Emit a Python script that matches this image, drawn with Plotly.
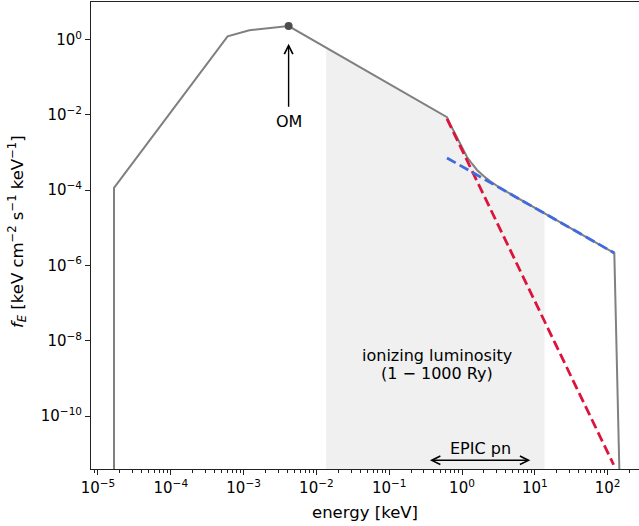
import numpy as np
import plotly.graph_objects as go

# Total spectral model (keV, keV cm^-2 s^-1 keV^-1)
energy = [1.66e-5, 1.66e-5, 6.03e-4, 1.20e-3, 4.15e-3, 0.622, 0.70, 0.853,
          1.0, 1.172, 1.39, 1.607, 2.0, 2.449, 3.2, 4.15, 123.6, 147.2]
flux = [1e-12, 1.15e-4, 1.22, 1.78, 2.29, 8.7e-3, 5.3e-3, 2.59e-3,
        1.38e-3, 7.62e-4, 4.9e-4, 3.45e-4, 2.35e-4, 1.72e-4, 1.22e-4, 9.0e-5,
        2.15e-6, 1e-12]

# Model components
soft_energy = [0.622, 121.0]
soft_flux = [7.9e-3, 5.1e-12]
pl_energy = [0.622, 123.6]
pl_flux = [7.2e-4, 2.15e-6]

# Optical monitor point (spectral peak)
om_energy = 4.15e-3
om_flux = 2.29

# Ionizing band 1-1000 Ry in keV
RY_KEV = 13.6057e-3
band = [1 * RY_KEV, 1000 * RY_KEV]
# EPIC pn band in keV
epic = [0.3, 10.0]

x_ticks = [1e-5, 1e-4, 1e-3, 1e-2, 1e-1, 1e0, 1e1, 1e2]
x_ticktext = ["10<sup>\u22125</sup>", "10<sup>\u22124</sup>", "10<sup>\u22123</sup>",
              "10<sup>\u22122</sup>", "10<sup>\u22121</sup>", "10<sup>0</sup>",
              "10<sup>1</sup>", "10<sup>2</sup>"]
y_ticks = [1e-10, 1e-8, 1e-6, 1e-4, 1e-2, 1e0]
y_ticktext = ["10<sup>\u221210</sup>", "10<sup>\u22128</sup>", "10<sup>\u22126</sup>",
              "10<sup>\u22124</sup>", "10<sup>\u22122</sup>", "10<sup>0</sup>"]

FONT = "DejaVu Sans"
TEXT_SIZE = 16
LABEL_SIZE = 16.5
TICK_SIZE = 15

# Shaded area under the model between 1 and 1000 Ry
le = np.log10(energy)
lf = np.log10(flux)
seg = slice(2, len(energy))
inside = [(e, f) for e, f in zip(energy[2:], flux[2:]) if band[0] < e < band[1]]
f_lo = 10 ** np.interp(np.log10(band[0]), le[seg], lf[seg])
f_hi = 10 ** np.interp(np.log10(band[1]), le[seg], lf[seg])
fill_x = [band[0]] + [p[0] for p in inside] + [band[1], band[1], band[0], band[0]]
fill_y = [f_lo] + [p[1] for p in inside] + [f_hi, 1e-13, 1e-13, f_lo]

fig = go.Figure()
fig.add_trace(go.Scatter(x=fill_x, y=fill_y, mode="lines", fill="toself",
                         fillcolor="#f0f0f0", line=dict(width=0),
                         hoverinfo="skip", showlegend=False))
fig.add_trace(go.Scatter(x=energy, y=flux, mode="lines",
                         line=dict(color="#808080", width=2), showlegend=False))
fig.add_trace(go.Scatter(x=soft_energy, y=soft_flux, mode="lines",
                         line=dict(color="#DC143C", width=2.8, dash="10px,4.5px"),
                         showlegend=False))
fig.add_trace(go.Scatter(x=pl_energy, y=pl_flux, mode="lines",
                         line=dict(color="#4169E1", width=2.8, dash="10px,4.5px"),
                         showlegend=False))
fig.add_trace(go.Scatter(x=[om_energy], y=[om_flux], mode="markers",
                         marker=dict(color="#4d4d4d", size=8), showlegend=False))

L = np.log10
txt = dict(family=FONT, size=TEXT_SIZE, color="black")
annotations = [
    # OM arrow
    dict(x=L(om_energy), y=L(0.78), ax=L(om_energy), ay=L(0.015),
         xref="x", yref="y", axref="x", ayref="y", text="", showarrow=True,
         arrowhead=5, arrowsize=1.2, arrowwidth=1.4, arrowcolor="black"),
    dict(x=L(om_energy), y=L(6.5e-3), xref="x", yref="y", text="OM",
         showarrow=False, font=txt),
    # EPIC pn band arrow
    dict(x=L(epic[1]), y=-11.174, ax=L(epic[0]), ay=-11.174,
         xref="x", yref="y", axref="x", ayref="y", text="", showarrow=True,
         arrowhead=5, startarrowhead=5, arrowside="end+start",
         arrowsize=1.2, startarrowsize=1.2, arrowwidth=1.4, arrowcolor="black",
         standoff=4.5, startstandoff=4.5),
    dict(x=0.251, y=-10.864, xref="x", yref="y", text="EPIC pn",
         showarrow=False, font=txt),
    dict(x=-0.343, y=-8.385, xref="x", yref="y", text="ionizing luminosity",
         showarrow=False, font=txt),
    dict(x=-0.343, y=-8.871, xref="x", yref="y", text="(1 \u2212 1000 Ry)",
         showarrow=False, font=txt),
    # axis titles
    dict(x=0.5, y=(469 - 512) / 467, xref="paper", yref="paper",
         text="energy [keV]", showarrow=False, yanchor="middle",
         font=dict(family=FONT, size=LABEL_SIZE, color="black")),
    dict(x=(17 - 91) / 548, y=(469 - 232) / 467, xref="paper", yref="paper",
         text="<i>f</i><sub><i>E</i></sub> [keV cm<sup>\u22122</sup> s<sup>\u22121</sup> keV<sup>\u22121</sup>]",
         textangle=-90, showarrow=False, xanchor="center", yanchor="middle",
         font=dict(family=FONT, size=LABEL_SIZE, color="black")),
]

fig.update_layout(
    width=639, height=526,
    margin=dict(l=91, r=0, t=2, b=57),
    plot_bgcolor="white", paper_bgcolor="white",
    font=dict(family=FONT, size=TEXT_SIZE, color="black"),
    annotations=annotations,
    xaxis=dict(type="log", range=[-5.096, 2.431], showgrid=False, zeroline=False,
               showline=True, linecolor="#222", linewidth=1, mirror=True,
               ticks="outside", ticklen=5, tickwidth=1, tickcolor="#222",
               tickvals=x_ticks, ticktext=x_ticktext,
               tickfont=dict(family=FONT, size=TICK_SIZE, color="black"),
               minor=dict(ticks="outside", ticklen=3, tickwidth=0.8,
                          tickcolor="#222", dtick="D1", showgrid=False)),
    yaxis=dict(type="log", range=[-11.405, 1.0], showgrid=False, zeroline=False,
               showline=True, linecolor="#222", linewidth=1, mirror=False,
               ticks="outside", ticklen=5, tickwidth=1, tickcolor="#222",
               tickvals=y_ticks, ticktext=y_ticktext,
               tickfont=dict(family=FONT, size=TICK_SIZE, color="black")),
)

fig.write_html("out.html")
